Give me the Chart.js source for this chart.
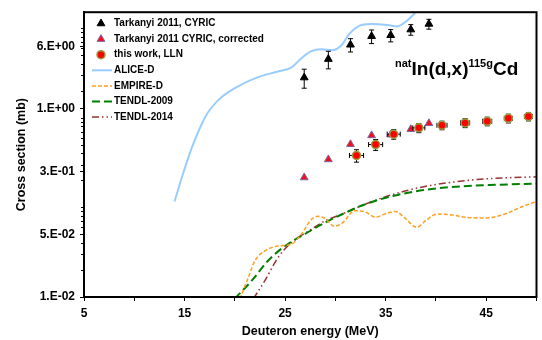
<!DOCTYPE html>
<html><head><meta charset="utf-8">
<script src="https://cdn.jsdelivr.net/npm/chart.js@4/dist/chart.umd.min.js"></script>
<style>html,body{margin:0;padding:0;background:#fff;}canvas{display:block;}</style>
</head><body>
<canvas id="c" width="542" height="340"></canvas>
<script>
// ---------- data ----------
const cyricE   = [26.9, 29.3, 31.5, 33.6, 35.5, 37.5, 39.3];
const cyricV   = [2.8, 4.5, 6.5, 8.1, 8.3, 9.6, 11.1];
const cyricErr = [0.67, 1.0, 1.1, 1.4, 1.3, 1.3, 1.4];

const corrE = [26.9, 29.3, 31.5, 33.6, 35.5, 37.5, 39.3];
const corrV = [0.215, 0.342, 0.505, 0.634, 0.645, 0.743, 0.865];

const llnE    = [32.1, 34.0, 35.8, 38.3, 40.6, 42.9, 45.1, 47.2, 49.2];
const llnV    = [0.379, 0.501, 0.655, 0.770, 0.823, 0.874, 0.911, 0.983, 1.03];
const llnXErr = [0.7, 0.7, 0.65, 0.6, 0.5, 0.45, 0.45, 0.4, 0.4];
const llnYErr = [0.06, 0.07, 0.08, 0.09, 0.09, 0.1, 0.1, 0.11, 0.11];

const aliceE = [14.0, 14.8, 15.8, 17.1, 18.4, 20.0, 22.3, 24.3, 25.6, 26.6, 27.6, 28.6, 29.7, 30.6, 31.4, 32.4, 33.5, 35.2, 36.1, 37.1, 38.0, 39.0];
const aliceV = [0.116, 0.228, 0.488, 1.04, 1.59, 2.14, 2.83, 3.27, 3.61, 4.58, 5.51, 5.79, 5.65, 6.41, 8.62, 10.6, 11.1, 10.8, 10.4, 12.0, 15.0, 19.0];

const empE = [20.5, 21.35, 22.0, 23.0, 24.3, 25.6, 26.6, 27.6, 28.25, 28.9, 29.9, 30.7, 31.9, 32.85, 34.0, 35.15, 36.0, 36.8, 38.1, 39.1, 40.1, 41.4, 43.0, 45.0, 46.65, 48.6, 50.0];
const empV = [0.0095, 0.0166, 0.0254, 0.0327, 0.0371, 0.0387, 0.0499, 0.073, 0.0793, 0.076, 0.0615, 0.0669, 0.0916, 0.090, 0.078, 0.0862, 0.090, 0.078, 0.060, 0.073, 0.0841, 0.0828, 0.0773, 0.076, 0.0828, 0.102, 0.116];

const t09E = [20.0, 21.7, 23.3, 25.0, 26.9, 28.9, 30.9, 32.85, 35.5, 38.8, 42.0, 45.3, 50.0];
const t09V = [0.0096, 0.0153, 0.0254, 0.0371, 0.0499, 0.0669, 0.0862, 0.107, 0.132, 0.156, 0.170, 0.177, 0.184];

const t14E = [21.85, 23.0, 24.3, 25.6, 27.3, 28.9, 30.9, 32.85, 35.5, 38.8, 42.0, 45.3, 50.0];
const t14V = [0.0096, 0.0153, 0.0276, 0.0403, 0.0542, 0.0699, 0.0862, 0.107, 0.137, 0.170, 0.193, 0.209, 0.219];

const xTickValues = [5, 10, 15, 20, 25, 30, 35, 40, 45, 50];
const xTickLabels = ['5', '', '15', '', '25', '', '35', '', '45', ''];
const yTickValues = [0.01, 0.05, 0.25, 1.25, 6.25];
const yTickLabels = ['1.E-02', '5.E-02', '3.E-01', '1.E+00', '6.E+00'];
const yMinorTicks = [0.02,0.03,0.04,0.06,0.07,0.08,0.09,0.1,0.2,0.3,0.4,0.5,0.6,0.7,0.8,0.9,1,2,3,4,5,6,7,8,9,10];

// ---------- chart ----------
const FONT = '"Liberation Sans", Arial, sans-serif';
Chart.defaults.font.family = FONT;
Chart.defaults.font.weight = 'bold';
Chart.defaults.color = '#000';

const pts = (xs, ys) => xs.map((x, i) => ({x: x, y: ys[i]}));

const errSpecs = {
  0: {xv: cyricE, yv: cyricV, ey: cyricErr},
  2: {xv: llnE, yv: llnV, ey: llnYErr, ex: llnXErr}
};

const errorBars = {
  id: 'errorBars',
  beforeDatasetDraw(chart, args) {
    const s = errSpecs[args.index];
    if (!s) return;
    const ctx = chart.ctx, xs = chart.scales.x, ys = chart.scales.y;
    ctx.save();
    ctx.strokeStyle = '#000';
    ctx.lineWidth = 1;
    s.xv.forEach((e, i) => {
      const v = s.yv[i];
      const px = xs.getPixelForValue(e), py = ys.getPixelForValue(v);
      ctx.beginPath();
      if (s.ey) {
        const y1 = ys.getPixelForValue(v + s.ey[i]), y2 = ys.getPixelForValue(v - s.ey[i]);
        ctx.moveTo(px, y1); ctx.lineTo(px, y2);
        ctx.moveTo(px - 2.5, y1); ctx.lineTo(px + 2.5, y1);
        ctx.moveTo(px - 2.5, y2); ctx.lineTo(px + 2.5, y2);
      }
      if (s.ex) {
        const x1 = xs.getPixelForValue(e - s.ex[i]), x2 = xs.getPixelForValue(e + s.ex[i]);
        ctx.moveTo(x1, py); ctx.lineTo(x2, py);
        ctx.moveTo(x1, py - 2.5); ctx.lineTo(x1, py + 2.5);
        ctx.moveTo(x2, py - 2.5); ctx.lineTo(x2, py + 2.5);
      }
      ctx.stroke();
    });
    ctx.restore();
  }
};

const frameAndExtras = {
  id: 'frameAndExtras',
  afterDraw(chart) {
    const ctx = chart.ctx, a = chart.chartArea, ys = chart.scales.y;
    ctx.save();
    // minor y ticks
    ctx.strokeStyle = '#000'; ctx.lineWidth = 1;
    ctx.beginPath();
    yMinorTicks.forEach(v => {
      const py = Math.round(ys.getPixelForValue(v)) + 0.5;
      ctx.moveTo(a.left - 3, py); ctx.lineTo(a.left, py);
    });
    ctx.stroke();
    // frame
    ctx.lineWidth = 2;
    ctx.strokeRect(a.left, a.top, a.right - a.left, a.bottom - a.top);
    // legend
    const ds = chart.data.datasets;
    ds.forEach((d, i) => {
      const y = 23.5 + 15.6 * i;
      ctx.save();
      if (d.showLine) {
        ctx.strokeStyle = d.borderColor; ctx.lineWidth = d.borderWidth;
        ctx.setLineDash(d.borderDash || []);
        ctx.beginPath(); ctx.moveTo(92, y); ctx.lineTo(112, y); ctx.stroke();
      } else {
        ctx.fillStyle = d.backgroundColor; ctx.strokeStyle = d.borderColor;
        ctx.lineWidth = d.borderWidth;
        Chart.helpers.drawPoint(ctx, {pointStyle: d.pointStyle, radius: d.pointRadius, borderWidth: d.borderWidth, rotation: 0}, 101, y);
      }
      ctx.restore();
      ctx.fillStyle = '#000';
      ctx.font = 'bold 10px ' + FONT;
      ctx.textBaseline = 'middle';
      ctx.textAlign = 'left';
      ctx.fillText(d.label, 114, y);
    });
    // reaction label
    ctx.fillStyle = '#000';
    ctx.textBaseline = 'alphabetic';
    let x = 395;
    const parts = [['nat', 11, 67], ['In(d,x)', 19, 75], ['115g', 11, 67], ['Cd', 19, 75]];
    parts.forEach(p => {
      ctx.font = 'bold ' + p[1] + 'px ' + FONT;
      ctx.fillText(p[0], x, p[2]);
      x += ctx.measureText(p[0]).width;
    });
    ctx.restore();
  }
};

new Chart(document.getElementById('c'), {
  type: 'scatter',
  data: {
    datasets: [
      {label: 'Tarkanyi 2011, CYRIC', data: pts(cyricE, cyricV), pointStyle: 'triangle', pointRadius: 4.5,
       backgroundColor: '#000', borderColor: '#000', borderWidth: 1, showLine: false, order: 2},
      {label: 'Tarkanyi 2011 CYRIC, corrected', data: pts(corrE, corrV), pointStyle: 'triangle', pointRadius: 4.5,
       backgroundColor: '#F0101C', borderColor: '#8064A2', borderWidth: 1, showLine: false, order: 1},
      {label: 'this work, LLN', data: pts(llnE, llnV), pointStyle: 'circle', pointRadius: 4,
       backgroundColor: '#FF0000', borderColor: '#9A9A40', borderWidth: 1.5, showLine: false, order: 0},
      {label: 'ALICE-D', data: pts(aliceE, aliceV), showLine: true, pointRadius: 0, borderColor: '#99CCFF',
       backgroundColor: '#99CCFF', borderWidth: 2, cubicInterpolationMode: 'monotone', clip: 0, order: 3},
      {label: 'EMPIRE-D', data: pts(empE, empV), showLine: true, pointRadius: 0, borderColor: '#FFA020',
       backgroundColor: '#FFA020', borderWidth: 1.5, borderDash: [4, 2], cubicInterpolationMode: 'monotone', clip: 0, order: 4},
      {label: 'TENDL-2009', data: pts(t09E, t09V), showLine: true, pointRadius: 0, borderColor: '#008000',
       backgroundColor: '#008000', borderWidth: 2, borderDash: [8, 4], cubicInterpolationMode: 'monotone', clip: 0, order: 5},
      {label: 'TENDL-2014', data: pts(t14E, t14V), showLine: true, pointRadius: 0, borderColor: '#993333',
       backgroundColor: '#993333', borderWidth: 1.5, borderDash: [7, 3, 1.5, 3, 1.5, 3], cubicInterpolationMode: 'monotone', clip: 0, order: 6}
    ]
  },
  options: {
    responsive: false,
    animation: false,
    devicePixelRatio: 1,
    layout: {padding: {top: 8, right: 1, left: 0, bottom: 0}},
    plugins: {legend: {display: false}, tooltip: {enabled: false}},
    scales: {
      x: {
        type: 'linear', min: 5, max: 50,
        afterBuildTicks: s => { s.ticks = xTickValues.map(v => ({value: v})); },
        afterFit: s => { s.height = 43; },
        ticks: {autoSkip: false, maxRotation: 0, padding: 5, font: {size: 12, weight: 'bold'}, color: '#000',
                callback: (v, i) => xTickLabels[i]},
        grid: {drawOnChartArea: false, drawTicks: true, tickLength: 4, color: '#000'},
        border: {display: true, color: '#000', width: 2},
        title: {display: true, text: 'Deuteron energy (MeV)', font: {size: 12.5, weight: 'bold'}, color: '#000', padding: {top: 0, bottom: 1}}
      },
      y: {
        type: 'logarithmic', min: 0.01, max: 15,
        afterBuildTicks: s => { s.ticks = yTickValues.map(v => ({value: v})); },
        afterFit: s => { s.width = 84; },
        ticks: {autoSkip: false, padding: 5, font: {size: 12, weight: 'bold'}, color: '#000',
                callback: (v, i) => yTickLabels[i]},
        grid: {drawOnChartArea: false, drawTicks: true, tickLength: 4, color: '#000'},
        border: {display: true, color: '#000', width: 2},
        title: {display: true, text: 'Cross section (mb)', font: {size: 12.5, weight: 'bold'}, color: '#000', padding: {top: 14, bottom: 0}}
      }
    }
  },
  plugins: [errorBars, frameAndExtras]
});
</script>
</body></html>
